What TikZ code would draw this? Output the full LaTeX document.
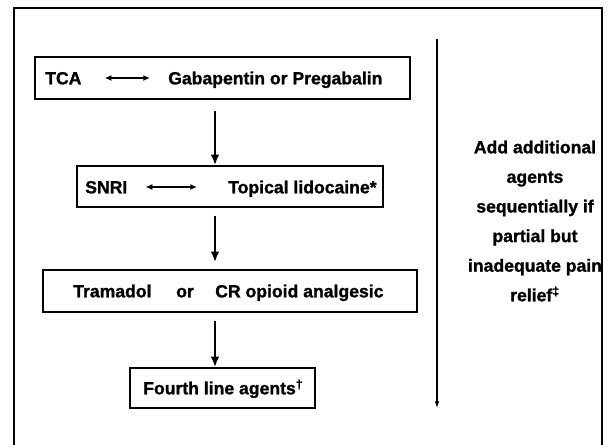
\documentclass[tikz,border=0pt]{standalone}
\usepackage{fontspec}
\setmainfont[BoldFeatures={FakeBold=1.2}]{Liberation Sans}
\usetikzlibrary{arrows.meta}

\tikzset{
	stepbox/.style={draw, line width=1.1pt, inner sep=0pt},
	drug/.style={anchor=west, inner sep=0pt, text height=9.5pt, text depth=0pt},
	altarrow/.style={{Latex[length=5pt,width=4.5pt]}-{Latex[length=5pt,width=4.5pt]}, line width=1.2pt},
	nextline/.style={-{Latex[length=8pt,width=6.5pt]}, line width=1.6pt},
}

\begin{document}
\begin{tikzpicture}[x=0.75pt, y=-0.75pt, font=\fontsize{13.2}{16}\selectfont\bfseries]
\useasboundingbox (0,0) rectangle (609,445);

% frame, open at the bottom
\draw [line width=2pt] (14,445) -- (14,8) -- (602,8) -- (602,445);

% the four lines of treatment
\node (first) [stepbox, minimum width=281.25pt, minimum height=31.5pt] at (222.5,78) {};
\node (tca) [drug] at (45,78) {TCA};
\node (gaba) [drug] at (168,78) {Gabapentin or Pregabalin};
\draw [altarrow, shorten <=17.25pt, shorten >=13.5pt] (tca) -- (gaba);

\node (second) [stepbox, minimum width=229.5pt, minimum height=30.75pt] at (230,186.5) {};
\node (snri) [drug] at (85,187) {SNRI};
\node (lido) [drug] at (228,187) {Topical lidocaine*};
\draw [altarrow, shorten <=13.5pt, shorten >=23.25pt] (snri) -- (lido);

\node (third) [stepbox, minimum width=280.5pt, minimum height=31.5pt] at (230,291) {};
\node (tram) [drug] at (73,291) {Tramadol};
\node (or) [drug] at (176,291) {or};
\node (opioid) [drug] at (215,291) {CR opioid analgesic};

\node (fourth) [stepbox, minimum width=138.75pt, minimum height=30pt] at (222.5,388) {};
\node (agents) [drug] at (143,388) {Fourth line agents\textsuperscript{†}};

% arrows down the left column
\coordinate (spine) at (215,0);
\draw [nextline, shorten <=8.25pt] (first.south -| spine) -- (second.north -| spine);
\draw [nextline, shorten <=6pt, shorten >=5.25pt] (second.south -| spine) -- (third.north -| spine);
\draw [nextline, shorten <=6pt] (third.south -| spine) -- (fourth.north -| spine);

% the add-on note on the right
\coordinate (addtop) at (437,39);
\coordinate (addend) at (437,408);
\draw [-{Latex[length=5pt,width=3.5pt]}, line width=0.8pt] (addtop) -- (addend);
\node (addnote) [align=center, inner sep=0pt, font=\fontsize{13.2}{22.2}\selectfont\bfseries]
	at (535,221) {Add additional\\agents\\sequentially if\\partial but\\inadequate pain\\relief\textsuperscript{‡}};
\end{tikzpicture}
\end{document}
